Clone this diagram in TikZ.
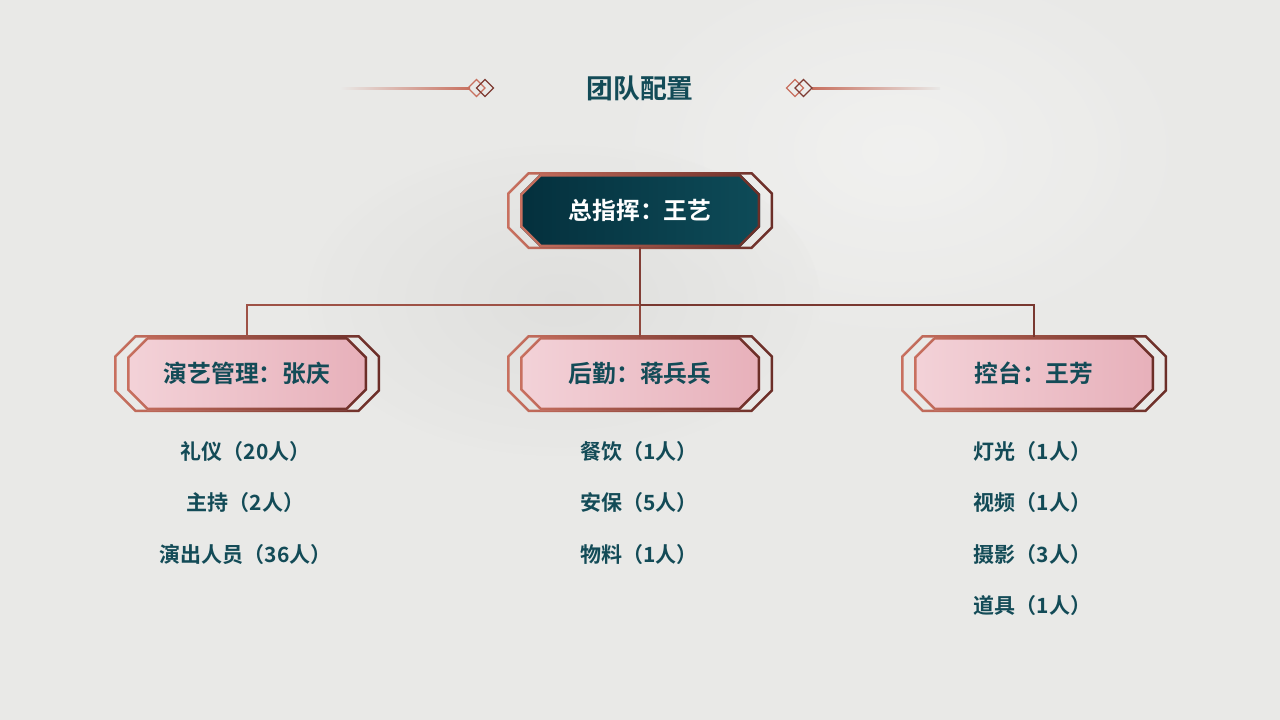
\documentclass[tikz,border=0pt]{standalone}
\usepackage{fontspec}
\setmainfont{Noto Sans CJK SC}[BoldFont={Noto Sans CJK SC Bold}]
\usetikzlibrary{calc,fadings}
\definecolor{bgc}{HTML}{E9E9E7}
\definecolor{teal}{HTML}{134B57}
\definecolor{salmon}{HTML}{C8705F}
\definecolor{brownd}{HTML}{6B2E28}
\definecolor{pinkl}{HTML}{F3D2D8}
\definecolor{pinkr}{HTML}{E7B0BA}
\definecolor{tealdark}{HTML}{04303D}
\definecolor{tealmid}{HTML}{0E4B58}
\newcommand\octo[5]{({#1+#5},#2) -- ({#3-#5},#2) -- (#3,{#2+#5}) -- (#3,{#4-#5}) -- ({#3-#5},#4) -- ({#1+#5},#4) -- (#1,{#4-#5}) -- (#1,{#2+#5}) -- cycle}
% #1 cx, #2 ytop, #3 ybot, #4 fill left, #5 fill right
\newcommand\fancybox[5]{%
  \shade[left color=salmon,right color=brownd,even odd rule]
     \octo{#1-133}{#2-2}{#1+133}{#3+2}{21} \octo{#1-130.5}{#2+0.5}{#1+130.5}{#3-0.5}{19.5};
  \shade[left color=#4,right color=#5]
     \octo{#1-120}{#2}{#1+120}{#3}{20};
  \shade[left color=salmon,right color=brownd,even odd rule]
     \octo{#1-120}{#2}{#1+120}{#3}{20} \octo{#1-117.5}{#2+2.5}{#1+117.5}{#3-2.5}{18.5};
}
\tikzset{
  boxlabel/.style={minimum width=240pt,minimum height=73pt,inner sep=0pt,font=\bfseries\fontsize{23.8}{28}\selectfont},
  item/.style={inner sep=0pt,text=teal,font=\bfseries\fontsize{21}{25}\selectfont},
  conn/.style={line width=2.5pt},
}
\begin{document}
\begin{tikzpicture}[x=1pt,y=-1pt]
\fill[bgc] (0,0) rectangle (1280,720);
\useasboundingbox (0,0) rectangle (1280,720);
\shade[inner color=white!60!bgc,outer color=bgc,opacity=0.6] (900,150) ellipse (300 and 200);
\shade[inner color=black!8!bgc,outer color=bgc,opacity=0.5] (560,300) ellipse (260 and 160);
% title
\node[text=teal,font=\bfseries\fontsize{26.8}{31}\selectfont] (title) at (640,88) {团队配置};
\shade[left color=bgc,right color=salmon] (340,87) rectangle (470,89);
\shade[left color=salmon,right color=bgc] (812,87) rectangle (940,89);
\draw[salmon,line width=1.3pt] (476.5,79.5) -- (485,88) -- (476.5,96.5) -- (468,88) -- cycle;
\draw[brownd!80!salmon,line width=1.3pt] (485,79.5) -- (493.5,88) -- (485,96.5) -- (476.5,88) -- cycle;
\draw[salmon,line width=1.3pt] (795,79.5) -- (803.5,88) -- (795,96.5) -- (786.5,88) -- cycle;
\draw[brownd!80!salmon,line width=1.3pt] (803.5,79.5) -- (812,88) -- (803.5,96.5) -- (795,88) -- cycle;
% boxes
\fancybox{640}{174}{247}{tealdark}{tealmid}
\fancybox{247}{337}{410}{pinkl}{pinkr}
\fancybox{640}{337}{410}{pinkl}{pinkr}
\fancybox{1034}{337}{410}{pinkl}{pinkr}
\node[boxlabel,text=white] (top) at (640,210.5) {总指挥：王艺};
\node[boxlabel,text=teal] (a) at (247,373.5) {演艺管理：张庆};
\node[boxlabel,text=teal] (b) at (640,373.5) {后勤：蒋兵兵};
\node[boxlabel,text=teal] (c) at (1034,373.5) {控台：王芳};
% connectors
\coordinate (hub) at (640,305);
\draw[conn,color=brownd!75!salmon] (top.south) -- (hub);
\draw[conn,color=brownd!45!salmon] (a.north) |- (hub);
\draw[conn,color=brownd!60!salmon] (b.north) -- (hub);
\draw[conn,color=brownd!85!salmon] (c.north) |- (hub);
% items
\node[item] (a1) at (245.5,452) {礼仪（20人）};
\node[item] (a2) at (245.5,503) {主持（2人）};
\node[item] (a3) at (245.5,555) {演出人员（36人）};
\node[item] (b1) at (639,452) {餐饮（1人）};
\node[item] (b2) at (639,503) {安保（5人）};
\node[item] (b3) at (639,555) {物料（1人）};
\node[item] (c1) at (1032.5,452) {灯光（1人）};
\node[item] (c2) at (1032.5,503) {视频（1人）};
\node[item] (c3) at (1032.5,555) {摄影（3人）};
\node[item] (c4) at (1032.5,606) {道具（1人）};
\end{tikzpicture}
\end{document}
